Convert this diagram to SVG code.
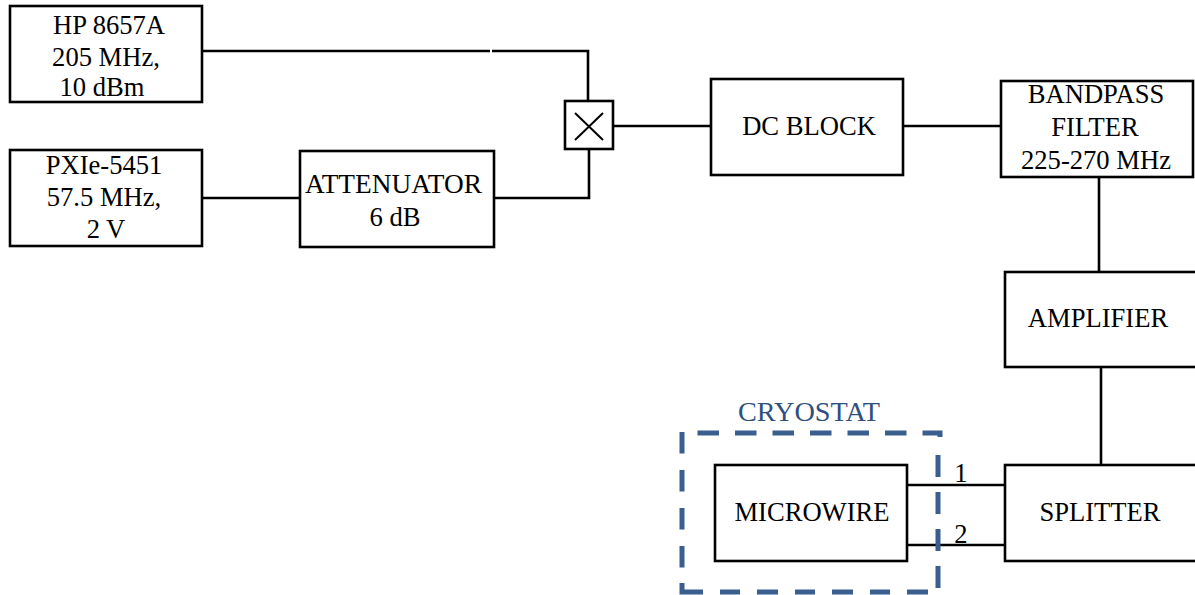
<svg xmlns="http://www.w3.org/2000/svg" width="1195" height="595" viewBox="0 0 1195 595">
<style>
.b{fill:#fff;stroke:#000;stroke-width:2.6}
.c{fill:none;stroke:#000;stroke-width:2.6}
.d{fill:none;stroke:#3a5f8f;stroke-width:5}
text{font-family:"Liberation Serif","Times New Roman",serif;font-size:26.6px;fill:#000;text-anchor:middle}
</style>
<rect width="1195" height="595" fill="#fff"/>
<g id="connectors">
<path class="c" d="M202 51H490M492 51H588V101"/>
<path class="c" d="M202 198H300"/>
<path class="c" d="M494 198H589V149"/>
<path class="c" d="M613 126H711"/>
<path class="c" d="M903 126H1001"/>
<path class="c" d="M1099 177V272"/>
<path class="c" d="M1101 367V465"/>
<path class="c" d="M907 485H1005"/>
<path class="c" d="M907 545H1005"/>
</g>
<g id="n1"><rect class="b" x="10" y="6" width="192" height="96"/><text x="109" y="34">HP 8657A</text><text x="106" y="66">205 MHz,</text><text x="102" y="96">10 dBm</text></g>
<g id="n2"><rect class="b" x="10" y="150" width="192" height="96"/><text x="104" y="174">PXIe-5451</text><text x="104" y="206">57.5 MHz,</text><text x="106" y="238">2 V</text></g>
<g id="n3"><rect class="b" x="300" y="151" width="194" height="96"/><text x="393.500" y="193" textLength="177" lengthAdjust="spacingAndGlyphs">ATTENUATOR</text><text x="395" y="226">6 dB</text></g>
<g id="mixer"><rect class="b" x="565" y="101" width="48" height="48"/><path d="M575 113L603 140M603 113L575 140" stroke="#000" stroke-width="2" fill="none"/></g>
<g id="n4"><rect class="b" x="711" y="79" width="192" height="96"/><text x="809" y="135">DC BLOCK</text></g>
<g id="n5"><rect class="b" x="1001" y="81" width="192" height="96"/><text x="1096" y="103">BANDPASS</text><text x="1095" y="136">FILTER</text><text x="1096" y="169">225-270 MHz</text></g>
<g id="n6"><rect class="b" x="1005" y="272" width="192" height="95"/><text x="1098" y="327">AMPLIFIER</text></g>
<g id="n7"><rect class="b" x="1005" y="465" width="192" height="96"/><text x="1100" y="521">SPLITTER</text></g>
<g id="n8"><rect class="b" x="715" y="465" width="192" height="96"/><text x="812" y="521">MICROWIRE</text></g>
<g id="cryostat">
<path class="d" stroke-dasharray="21.500 16" d="M697.500 433H940V438"/>
<path class="d" stroke-dasharray="22 15" d="M938 455V592"/>
<path class="d" d="M928 592H907M890 592H870M853 592H832M815 592H795M778 592H757M740 592H720M703 592H682V583"/>
<path class="d" stroke-dasharray="21.500 16.500" d="M682 432V568"/>
<text x="809" y="421" textLength="142" lengthAdjust="spacingAndGlyphs" style="fill:#2f4f7f">CRYOSTAT</text></g>
<text x="961" y="482">1</text>
<text x="961" y="543">2</text>
</svg>
